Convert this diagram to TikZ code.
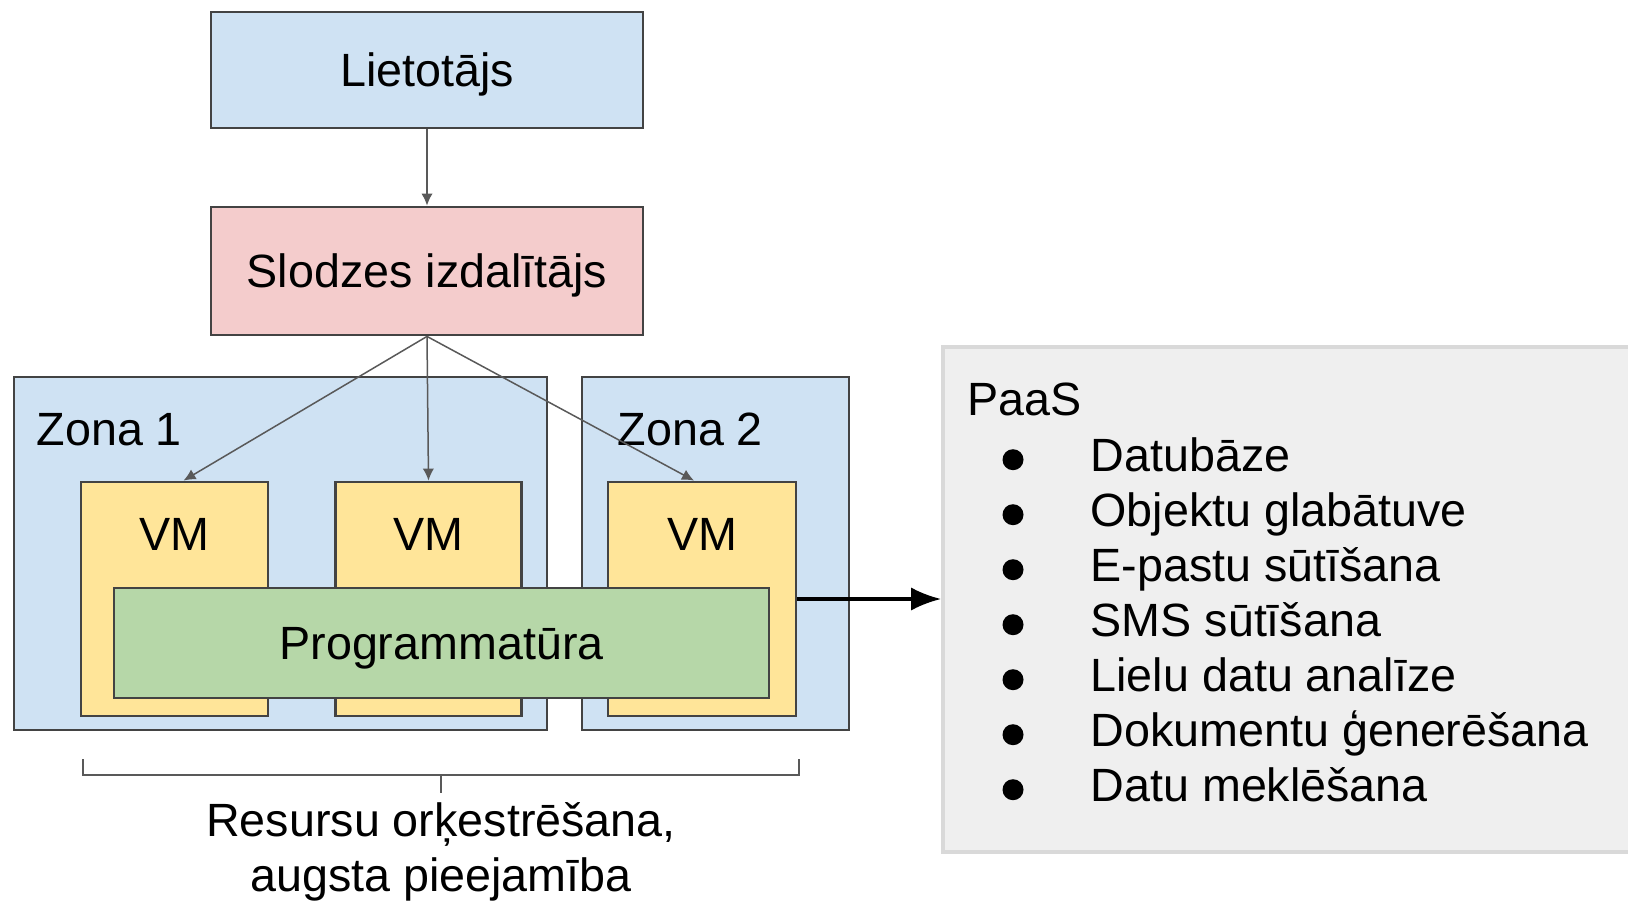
\documentclass[tikz,border=0pt]{standalone}
\usepackage{xcolor}
\usepackage{fontspec}
\setmainfont{Liberation Sans}
\usetikzlibrary{arrows.meta}
\definecolor{bleuclair}{HTML}{CFE2F3}
\definecolor{roseclair}{HTML}{F4CCCC}
\definecolor{jaunepale}{HTML}{FFE599}
\definecolor{vertpale}{HTML}{B6D7A8}
\definecolor{grisfond}{HTML}{EFEFEF}
\definecolor{grisbord}{HTML}{D9D9D9}
\definecolor{grisfonce}{HTML}{434343}
\definecolor{grisfleche}{HTML}{595959}

\begin{document}
\begin{tikzpicture}[x=0.3pt,y=-0.3pt]
    % Dimensions (MODIFIABLES)
    \def\Pix{0.3pt}
    \def\ListeY{471.7}
    \def\InterLignes{55}
    % Styles (MODIFIABLES)
    \tikzstyle{texte}=[inner sep=0pt,font=\fontsize{14}{16.5}\selectfont]
    \tikzstyle{boite}=[texte,draw=grisfonce,line width=0.85pt,text height=10pt,text depth=0pt]
    \tikzstyle{zone}=[boite,fill=bleuclair]
    \tikzstyle{vm}=[boite,fill=jaunepale,minimum height=234*\Pix]
    \tikzstyle{prog}=[boite,fill=vertpale]
    \tikzstyle{paas}=[draw=grisbord,fill=grisfond,line width=1.2pt]
    \tikzstyle{puce}=[circle,fill=black,inner sep=0pt,minimum size=21*\Pix]
    \tikzstyle{element}=[texte,anchor=base west]
    \tikzstyle{fleche}=[-{Latex[length=3.6pt,width=3.4pt]},draw=grisfleche,line width=0.45pt]
    \tikzstyle{grosfleche}=[-{Latex[length=9pt,width=7pt]},line width=0.95pt]
    \tikzstyle{accolade}=[draw=grisfleche,line width=0.55pt]
    \useasboundingbox (0,0) rectangle (1628,903);
    % Blocs du haut
    \node[boite,fill=bleuclair,minimum width=432*\Pix,minimum height=116*\Pix] (lietotajs) at (427,70) {Lietotājs};
    \node[boite,fill=roseclair,minimum width=432*\Pix,minimum height=128*\Pix] (slodze) at (427,271) {Slodzes izdalītājs};
    % Zones et machines virtuelles
    \node[zone,minimum width=533*\Pix,minimum height=353*\Pix] (zona1) at (280.5,553.5) {};
    \node[zone,minimum width=267*\Pix,minimum height=353*\Pix] (zona2) at (715.5,553.5) {};
    \node[texte,anchor=base west] (zona1txt) at (36,445) {Zona 1};
    \node[texte,anchor=base west] (zona2txt) at (617,445) {Zona 2};
    \node[vm,minimum width=187*\Pix] (vm1) at (174.5,599) {};
    \node[vm,minimum width=186*\Pix] (vm2) at (428.5,599) {};
    \node[vm,minimum width=188*\Pix] (vm3) at (702,599) {};
    \node[texte,anchor=base] (vm1txt) at (174.5,550) {VM};
    \node[texte,anchor=base] (vm2txt) at (428.5,550) {VM};
    \node[texte,anchor=base] (vm3txt) at (702,550) {VM};
    \node[prog,minimum width=655*\Pix,minimum height=110*\Pix] (prog) at (441.5,643) {Programmatūra};
    % Accolade et legende
    \coordinate (accG) at (83,759);
    \coordinate (accD) at (799,759);
    \coordinate (accM) at (441,775);
    \coordinate (accP) at (441,793);
    \draw[accolade] (accG) |- (accM) -| (accD);
    \draw[accolade] (accM) -- (accP);
    \node[texte,align=center,anchor=base] (orkestr) at (441,891.7) {Resursu orķestrēšana,\\augsta pieejamība};
    % Bloc PaaS
    \node[paas,minimum width=698*\Pix,minimum height=505*\Pix] (paas) at (1292,599.5) {};
    \node[element] (paastxt) at (967,415) {PaaS};
    \node[puce] (p1) at (1013,{\ListeY-12+(0)*\InterLignes}) {};
    \node[puce] (p2) at (1013,{\ListeY-12+(1)*\InterLignes}) {};
    \node[puce] (p3) at (1013,{\ListeY-12+(2)*\InterLignes}) {};
    \node[puce] (p4) at (1013,{\ListeY-12+(3)*\InterLignes}) {};
    \node[puce] (p5) at (1013,{\ListeY-12+(4)*\InterLignes}) {};
    \node[puce] (p6) at (1013,{\ListeY-12+(5)*\InterLignes}) {};
    \node[puce] (p7) at (1013,{\ListeY-12+(6)*\InterLignes}) {};
    \node[element] (e1) at (1090,{\ListeY+(0)*\InterLignes}) {Datubāze};
    \node[element] (e2) at (1090,{\ListeY+(1)*\InterLignes}) {Objektu glabātuve};
    \node[element] (e3) at (1090,{\ListeY+(2)*\InterLignes}) {E-pastu sūtīšana};
    \node[element] (e4) at (1090,{\ListeY+(3)*\InterLignes}) {SMS sūtīšana};
    \node[element] (e5) at (1090,{\ListeY+(4)*\InterLignes}) {Lielu datu analīze};
    \node[element] (e6) at (1090,{\ListeY+(5)*\InterLignes}) {Dokumentu ģenerēšana};
    \node[element] (e7) at (1090,{\ListeY+(6)*\InterLignes}) {Datu meklēšana};
    % Fleches
    \draw[fleche] (lietotajs) -- (slodze);
    \draw[fleche] (slodze.south) -- ([xshift=9*\Pix]vm1.north);
    \draw[fleche] (slodze.south) -- (vm2.north);
    \draw[fleche] (slodze.south) -- ([xshift=-8*\Pix]vm3.north);
    \draw[grosfleche] (vm3.east) -- (vm3.east -| paas.west);
\end{tikzpicture}
\end{document}
